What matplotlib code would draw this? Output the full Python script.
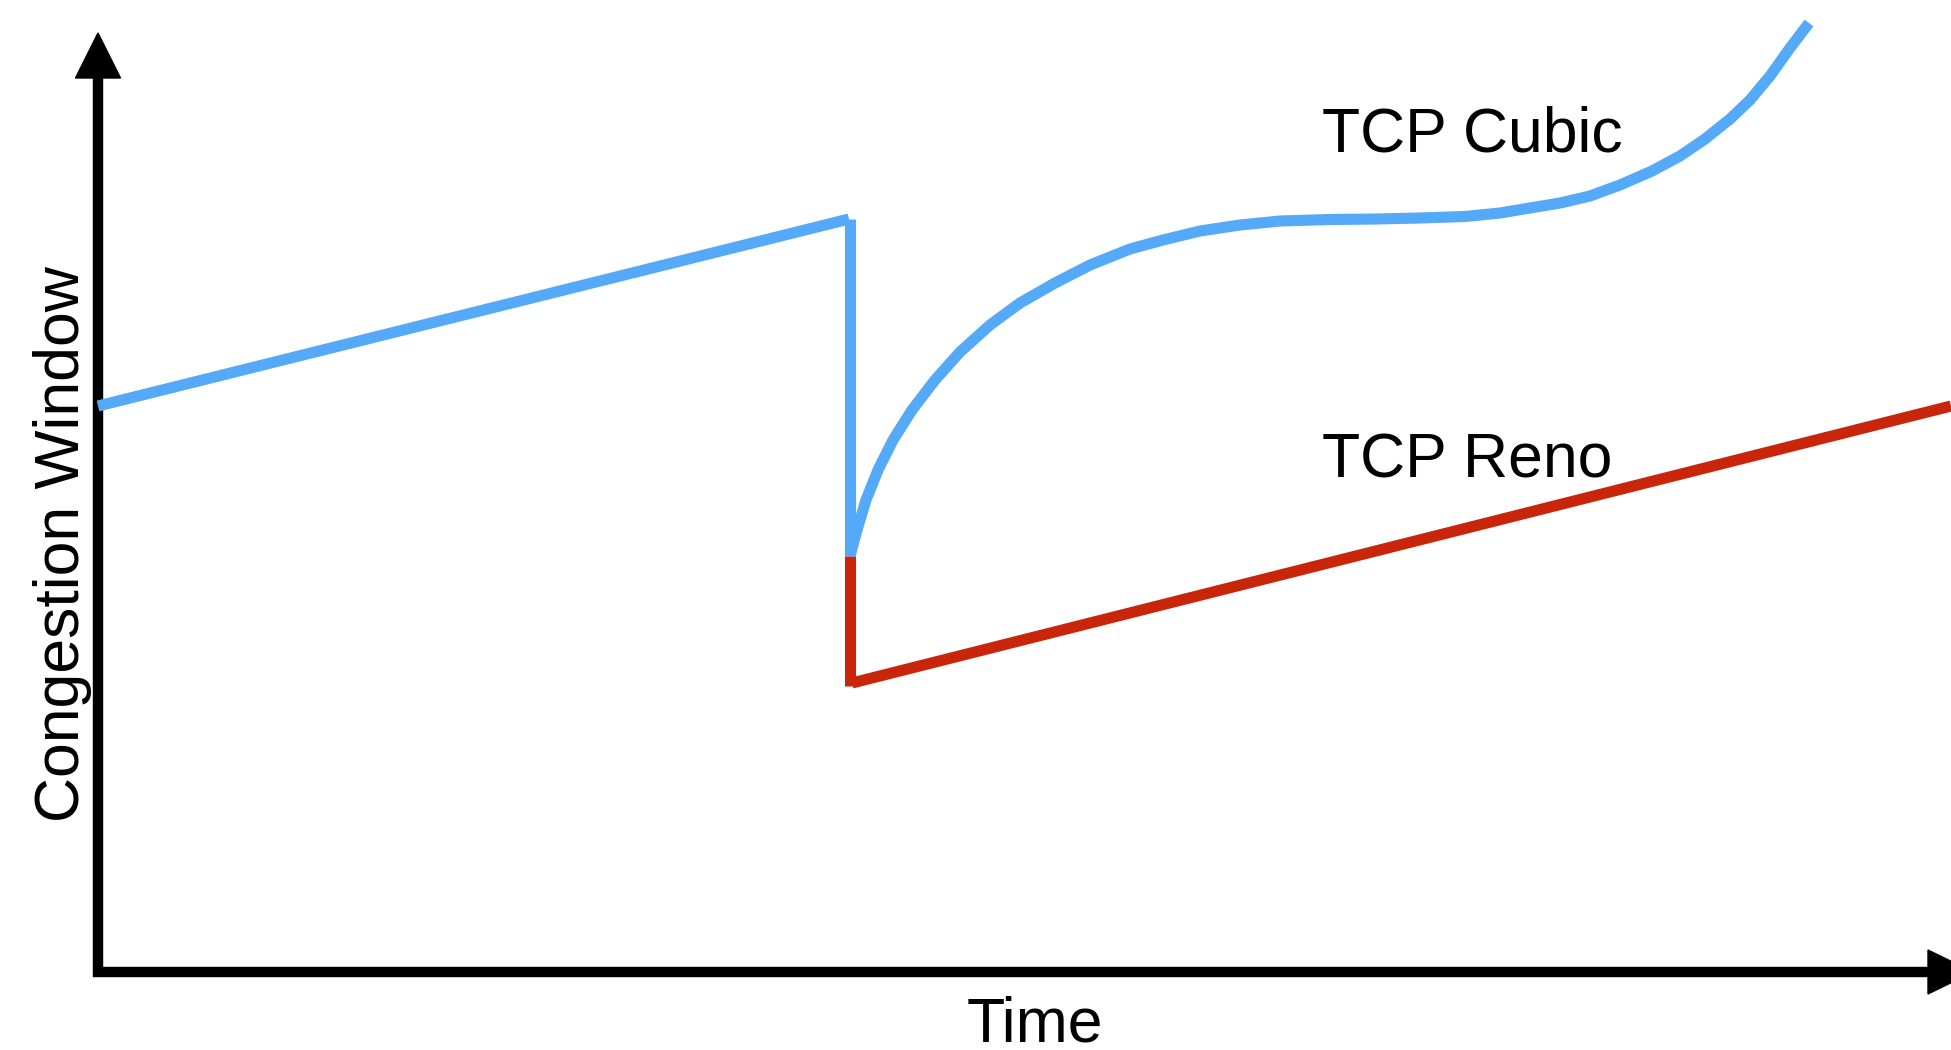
import matplotlib.pyplot as plt
from matplotlib.patches import Polygon

plt.rcParams['font.family'] = ['Liberation Sans', 'DejaVu Sans']

# Data (time / congestion window, arbitrary units)
# additive increase before the loss event (both algorithms)
pre_time = [0.0, 75.1]
pre_cwnd = [56.6, 75.3]

# loss event
loss_time = 75.2
cubic_drop = [75.3, 41.6]
reno_drop = [41.6, 28.6]

# TCP Reno after loss
reno_time = [75.4, 185.3]
reno_cwnd = [28.9, 56.6]

# TCP Cubic after loss: concave part up to W_max ...
cubic_time_a = [75.2, 75.9, 76.8, 78.0, 79.5, 81.4, 83.7, 86.2, 89.2, 92.2,
                95.7, 99.2, 103.2, 106.5, 110.2, 114.2, 118.2, 123.2, 127.7]
cubic_cwnd_a = [41.6, 44.2, 47.2, 50.2, 53.2, 56.2, 59.2, 62.0, 64.7, 66.9,
                68.9, 70.7, 72.3, 73.2, 74.1, 74.7, 75.1, 75.25, 75.3]
# ... then convex probing beyond it
cubic_time_b = [127.7, 132.2, 136.7, 140.2, 143.2, 146.2, 149.2, 152.2, 155.4,
                158.2, 160.7, 163.2, 165.2, 167.2, 169.2, 171.1]
cubic_cwnd_b = [75.3, 75.4, 75.55, 75.9, 76.4, 76.9, 77.6, 78.7, 80.1,
                81.6, 83.3, 85.3, 87.2, 89.6, 92.4, 94.9]

blue = '#55A9F9'
red = '#C8250A'
lw = 8
axis_lw = 7.5

fig = plt.figure(figsize=(19.51, 10.5), dpi=100)
ax = fig.add_axes([0, 0, 1, 1])
ax.set_xlim(-9.8, 185.3)
ax.set_ylim(-7.8, 97.2)
ax.axis('off')

# axes with arrow heads
ax.plot([0, 0], [-0.5, 89.6], color='black', lw=axis_lw, solid_capstyle='butt')
ax.plot([-0.5, 183.2], [0, 0], color='black', lw=axis_lw, solid_capstyle='butt')
ax.add_patch(Polygon([[-2.25, 89.4], [2.25, 89.4], [0, 93.9]], closed=True, color='black'))
ax.add_patch(Polygon([[183.0, 2.2], [183.0, -2.2], [187.5, 0]], closed=True, color='black', clip_on=False))

# curves
ax.plot(pre_time, pre_cwnd, color=blue, lw=lw, solid_capstyle='butt')
ax.plot([loss_time, loss_time], cubic_drop, color=blue, lw=lw, solid_capstyle='butt')
ax.plot([loss_time, loss_time], reno_drop, color=red, lw=lw, solid_capstyle='butt')
ax.plot(reno_time, reno_cwnd, color=red, lw=lw, solid_capstyle='butt')
ax.plot(cubic_time_a, cubic_cwnd_a, color=blue, lw=lw, solid_capstyle='butt', solid_joinstyle='round')
ax.plot(cubic_time_b, cubic_cwnd_b, color=blue, lw=lw, solid_capstyle='butt', solid_joinstyle='round')

# labels
fs = 45
ax.text(122.4, 82.0, 'TCP Cubic', fontsize=fs, ha='left', va='baseline')
ax.text(122.4, 49.4, 'TCP Reno', fontsize=fs, ha='left', va='baseline')
ax.text(93.7, -7.0, 'Time', fontsize=fs, ha='center', va='baseline')
ax.text(-1.9, 42.8, 'Congestion Window', fontsize=fs, rotation=90,
        rotation_mode='anchor', ha='center', va='baseline')

fig.savefig('out.png', dpi=100)
